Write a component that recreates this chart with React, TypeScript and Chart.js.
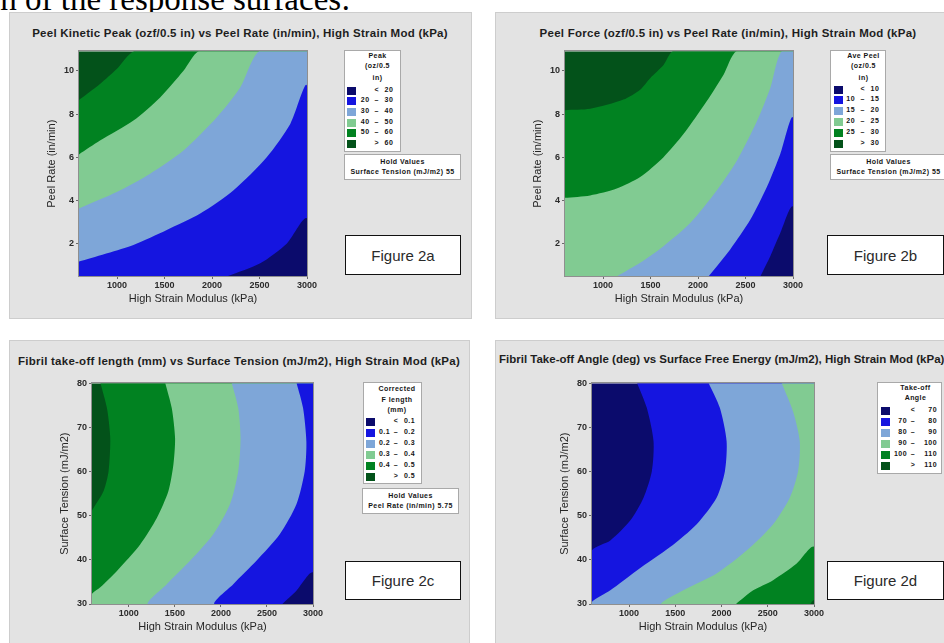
import React, { useEffect, useRef } from 'react';
import { Chart, registerables } from 'chart.js';

Chart.register(...registerables);

const SANS = '"Liberation Sans", Arial, Helvetica, sans-serif';

// ---------------- shared axes ----------------
const modulusTicks = [1000, 1500, 2000, 2500, 3000];
const modulusRange = [600, 3000];
const peelRateTicks = [2, 4, 6, 8, 10];
const peelRateRange = [0.5, 10.9];
const tensionTicks = [30, 40, 50, 60, 70, 80];
const tensionRange = [30, 80];

// bin colours, lowest bin first
const binColors = ['#0b0b6c', '#1515e0', '#7ea6d8', '#81cb92', '#018221', '#03521a'];

// ---------------- Figure 2a : Peel Kinetic Peak ----------------
const peakBins = [['', '<', '20'], ['20', '–', '30'], ['30', '–', '40'], ['40', '–', '50'], ['50', '–', '60'], ['', '>', '60']];
const peak60 = [[600, 8.65], [821, 9.39], [997, 10.08], [1190, 10.93]];
const peak50 = [[600, 6.13], [821, 6.77], [1173, 7.7], [1454, 8.77], [1700, 10.0], [1869, 10.93]];
const peak40 = [[600, 3.63], [997, 4.39], [1349, 5.24], [1700, 6.31], [2051, 7.85], [2297, 9.23], [2501, 10.93]];
const peak30 = [[600, 1.17], [1173, 1.94], [1524, 2.63], [1876, 3.39], [2227, 4.47], [2578, 6.01], [2824, 7.54], [3000, 9.31]];
const peak20 = [[2157, 0.48], [2508, 1.09], [2789, 2.01], [3000, 3.16]];

// ---------------- Figure 2b : Peel Force ----------------
const forceBins = [['', '<', '10'], ['10', '–', '15'], ['15', '–', '20'], ['20', '–', '25'], ['25', '–', '30'], ['', '>', '30']];
const force30 = [[600, 8.18], [864, 8.24], [1215, 8.67], [1391, 9.13], [1496, 9.66], [1637, 10.27], [1742, 10.93]];
const force25 = [[600, 4.12], [864, 4.23], [1145, 4.55], [1391, 5.08], [1637, 6.0], [1847, 7.07], [2093, 8.6], [2269, 9.82], [2410, 10.93]];
const force20 = [[1145, 0.48], [1391, 1.11], [1637, 1.88], [1918, 2.95], [2199, 4.47], [2410, 5.85], [2621, 7.68], [2761, 9.21], [2884, 10.93]];
const force15 = [[2111, 0.48], [2339, 1.73], [2550, 3.1], [2726, 4.63], [2866, 6.15], [3000, 7.83]];
const force10 = [[2656, 0.48], [2761, 1.42], [2866, 2.49], [3000, 3.71]];

// ---------------- Figure 2c : Fibril take-off length ----------------
const lengthBins = [['', '<', '0.1'], ['0.1', '–', '0.2'], ['0.2', '–', '0.3'], ['0.3', '–', '0.4'], ['0.4', '–', '0.5'], ['', '>', '0.5']];
const length05 = [[690, 80.2], [762, 74.4], [798, 67.6], [780, 60.1], [726, 55.6], [618, 51.8], [598, 51.1]];
const length04 = [[1394, 80.2], [1466, 74.4], [1502, 67.6], [1484, 61.6], [1430, 55.6], [1304, 49.5], [1123, 43.5], [871, 37.5], [690, 33.8], [598, 32.3]];
const length03 = [[2116, 80.2], [2188, 74.4], [2213, 67.6], [2188, 60.1], [2098, 52.6], [1917, 45.8], [1665, 39.8], [1412, 34.5], [1214, 29.8]];
const length02 = [[2820, 80.2], [2892, 74.4], [2928, 66.8], [2910, 60.1], [2820, 52.6], [2639, 45.8], [2386, 39.8], [2134, 34.5], [1935, 29.8]];
const length01 = [[2657, 29.8], [2820, 33.0], [3002, 37.1]];

// ---------------- Figure 2d : Fibril take-off angle ----------------
const angleBins = [['', '<', '70'], ['70', '–', '80'], ['80', '–', '90'], ['90', '–', '100'], ['100', '–', '110'], ['', '>', '110']];
const angle70 = [[1085, 80.2], [1193, 74.4], [1265, 66.9], [1247, 60.1], [1157, 54.1], [1013, 48.9], [798, 44.4], [598, 42.1]];
const angle80 = [[1858, 80.2], [1983, 74.4], [2055, 66.9], [2037, 60.1], [1947, 54.1], [1732, 48.1], [1444, 42.9], [1085, 37.6], [798, 33.1], [598, 30.5]];
const angle90 = [[2648, 80.2], [2774, 73.6], [2846, 66.9], [2828, 60.1], [2738, 54.1], [2558, 48.1], [2271, 42.1], [1947, 36.9], [1588, 33.1], [1355, 29.8]];
const angle100 = [[2145, 29.8], [2343, 33.1], [2558, 35.4], [2810, 39.1], [3002, 42.9]];
const angle110 = [[2953, 29.8], [3002, 30.9]];

// ---------------- chart ----------------
type Layer = { pts: number[][]; close: string[]; color: string };

const Y_AXIS_W = 34;
const X_AXIS_H = 30;
const PAD_TOP = 6;
const PAD_RIGHT = 14;

const framePlugin = {
  id: 'plotFrame',
  afterDatasetsDraw(chart: any) {
    const { ctx, chartArea: a } = chart;
    ctx.save();
    ctx.strokeStyle = '#8f8f8f';
    ctx.lineWidth = 1;
    ctx.strokeRect(Math.round(a.left) - 0.5, Math.round(a.top) - 0.5, Math.round(a.right - a.left) + 1, Math.round(a.bottom - a.top) + 1);
    ctx.restore();
  },
};

function axis(range: number[], ticks: number[], title: string, isX: boolean) {
  return {
    type: 'linear',
    min: range[0],
    max: range[1],
    afterBuildTicks: (s: any) => {
      s.ticks = ticks.map((v) => ({ value: v }));
    },
    afterFit: (s: any) => {
      if (isX) s.height = X_AXIS_H;
      else s.width = Y_AXIS_W;
    },
    ticks: {
      color: '#2b2b2b',
      font: { size: 9, family: SANS, weight: 'bold' },
      padding: isX ? 1 : 2,
      maxRotation: 0,
      autoSkip: false,
      callback: (v: any) => String(v),
    },
    grid: { drawOnChartArea: false, drawTicks: true, tickLength: 3, color: '#6a6a6a', lineWidth: 1 },
    border: { display: false },
    title: { display: true, text: title, color: '#262626', font: { size: 11, family: SANS }, padding: 0 },
  };
}

function ContourChart(props: {
  rect: number[];
  xRange: number[];
  yRange: number[];
  xTicks: number[];
  yTicks: number[];
  xTitle: string;
  yTitle: string;
  base: string;
  layers: Layer[];
}) {
  const ref = useRef<HTMLCanvasElement | null>(null);
  const { rect, xRange, yRange, xTicks, yTicks, xTitle, yTitle, base, layers } = props;
  const [L, T, R, B] = rect;
  const left = L - Y_AXIS_W;
  const top = T - PAD_TOP;
  const width = R - L + Y_AXIS_W + PAD_RIGHT;
  const height = B - T + PAD_TOP + X_AXIS_H;

  useEffect(() => {
    if (!ref.current) return;
    const [x0, x1] = xRange;
    const [y0, y1] = yRange;
    const mx = (x1 - x0) * 0.15;
    const my = (y1 - y0) * 0.15;
    const corner: Record<string, { x: number; y: number }> = {
      TL: { x: x0 - mx, y: y1 + my },
      TR: { x: x1 + mx, y: y1 + my },
      BR: { x: x1 + mx, y: y0 - my },
      BL: { x: x0 - mx, y: y0 - my },
    };
    const all: Layer[] = [{ pts: [], close: ['TL', 'TR', 'BR', 'BL'], color: base }, ...layers];
    const datasets = all.map((l, i) => ({
      data: [...l.pts.map(([x, y]) => ({ x, y })), ...l.close.map((c) => corner[c])],
      showLine: true,
      fill: 'shape',
      backgroundColor: l.color,
      borderColor: l.color,
      borderWidth: 0,
      pointRadius: 0,
      pointHoverRadius: 0,
      tension: 0.25,
      order: all.length - i,
    }));
    const chart = new Chart(ref.current, {
      type: 'scatter',
      data: { datasets } as any,
      options: {
        animation: false,
        responsive: false,
        maintainAspectRatio: false,
        events: [],
        layout: { padding: { top: PAD_TOP, right: PAD_RIGHT, left: 0, bottom: 0 } },
        elements: { line: { capBezierPoints: false } },
        plugins: {
          legend: { display: false },
          tooltip: { enabled: false },
          title: { display: false },
          filler: { propagate: false },
        },
        scales: {
          x: axis(xRange, xTicks, xTitle, true),
          y: axis(yRange, yTicks, yTitle, false),
        } as any,
      },
      plugins: [framePlugin],
    });
    return () => chart.destroy();
  }, []);

  return <canvas ref={ref} width={width} height={height} style={{ position: 'absolute', left, top, width, height }} />;
}

// ---------------- HTML decorations ----------------
function PanelBg(p: { l: number; t: number; w: number; h: number }) {
  return (
    <div
      style={{
        position: 'absolute',
        left: p.l,
        top: p.t,
        width: p.w,
        height: p.h,
        background: '#e3e3e3',
        border: '1px solid #cdcdcd',
        boxSizing: 'border-box',
      }}
    />
  );
}

function Title(p: { text: string; cx?: number; x?: number; cy: number; spacing?: number }) {
  const base: any = {
    position: 'absolute',
    top: p.cy - 8,
    height: 16,
    lineHeight: '16px',
    font: `bold 11.5px ${SANS}`,
    letterSpacing: `${p.spacing ?? 0.25}px`,
    color: '#1e1e1e',
    whiteSpace: 'nowrap',
  };
  if (p.cx !== undefined) {
    return <div style={{ ...base, left: p.cx - 300, width: 600, textAlign: 'center' }}>{p.text}</div>;
  }
  return <div style={{ ...base, left: p.x }}>{p.text}</div>;
}

const LEG_FONT = `bold 7px ${SANS}`;

function Legend(p: {
  box: number[];
  titleLines: string[];
  titleCx: number;
  titleYs: number[];
  rows: string[][];
  row0: number;
  step: number;
  sw: number;
  lowR: number;
  sepC: number;
  highR: number;
}) {
  const [l, t, w, h] = p.box;
  const txt: any = { position: 'absolute', height: 10, lineHeight: '10px', font: LEG_FONT, letterSpacing: '0.45px', color: '#151515', whiteSpace: 'nowrap' };
  return (
    <div style={{ position: 'absolute', left: l, top: t, width: w, height: h, background: '#fff', border: '1px solid #a9a9a9', boxSizing: 'border-box' }}>
      {p.titleLines.map((s, i) => (
        <div key={'t' + i} style={{ ...txt, left: p.titleCx - 41, width: 80, top: p.titleYs[i] - 6, textAlign: 'center' }}>
          {s}
        </div>
      ))}
      {p.rows.map((r, i) => {
        const cy = p.row0 + i * p.step - 1;
        return (
          <React.Fragment key={'r' + i}>
            <div style={{ position: 'absolute', left: p.sw - 1, top: cy - 4, width: 9, height: 8, background: binColors[i] }} />
            <div style={{ ...txt, left: p.lowR - 31, width: 30, top: cy - 5, textAlign: 'right' }}>{r[0]}</div>
            <div style={{ ...txt, left: p.sepC - 6, width: 10, top: cy - 5, textAlign: 'center' }}>{r[1]}</div>
            <div style={{ ...txt, left: p.highR - 31, width: 30, top: cy - 5, textAlign: 'right' }}>{r[2]}</div>
          </React.Fragment>
        );
      })}
    </div>
  );
}

function HoldBox(p: { box: number[]; value: string }) {
  const [l, t, w, h] = p.box;
  const txt: any = {
    position: 'absolute',
    left: 0,
    width: w - 2,
    height: 10,
    lineHeight: '10px',
    textAlign: 'center',
    font: LEG_FONT,
    letterSpacing: '0.45px',
    color: '#151515',
    whiteSpace: 'nowrap',
  };
  return (
    <div style={{ position: 'absolute', left: l, top: t, width: w, height: h, background: '#fff', border: '1px solid #a9a9a9', boxSizing: 'border-box' }}>
      <div style={{ ...txt, top: 2.5 }}>Hold Values</div>
      <div style={{ ...txt, top: 13 }}>{p.value}</div>
    </div>
  );
}

function FigBox(p: { box: number[]; text: string }) {
  const [l, t, w, h] = p.box;
  return (
    <div
      style={{
        position: 'absolute',
        left: l,
        top: t,
        width: w,
        height: h,
        background: '#fff',
        border: '1.5px solid #111',
        boxSizing: 'border-box',
        font: `15px ${SANS}`,
        color: '#2a2a2a',
        display: 'flex',
        alignItems: 'center',
        justifyContent: 'center',
      }}
    >
      {p.text}
    </div>
  );
}

const MODULUS_TITLE = 'High Strain Modulus (kPa)';

export default function App() {
  return (
    <div style={{ position: 'fixed', left: 0, top: 0, width: 944, height: 643, overflow: 'hidden', background: '#fff' }}>
      <div
        style={{
          position: 'absolute',
          left: -43.7,
          top: -17.2,
          font: '33px "Liberation Serif", "Times New Roman", serif',
          lineHeight: '33px',
          whiteSpace: 'nowrap',
          color: '#000',
        }}
      >
        each of the response surfaces:
      </div>

      {/* ---------- Figure 2a ---------- */}
      <PanelBg l={9} t={12} w={463} h={307} />
      <Title text="Peel Kinetic Peak (ozf/0.5 in) vs Peel Rate (in/min), High Strain Mod (kPa)" cx={240} cy={35} />
      <ContourChart
        rect={[79, 50, 307, 276]}
        xRange={modulusRange}
        yRange={peelRateRange}
        xTicks={modulusTicks}
        yTicks={peelRateTicks}
        xTitle={MODULUS_TITLE}
        yTitle="Peel Rate (in/min)"
        base={binColors[5]}
        layers={[
          { pts: peak60, close: ['TR', 'BR', 'BL'], color: binColors[4] },
          { pts: peak50, close: ['TR', 'BR', 'BL'], color: binColors[3] },
          { pts: peak40, close: ['TR', 'BR', 'BL'], color: binColors[2] },
          { pts: peak30, close: ['BR', 'BL'], color: binColors[1] },
          { pts: peak20, close: ['BR'], color: binColors[0] },
        ]}
      />
      <Legend
        box={[344, 50, 57, 102]}
        titleLines={['Peak', '(oz/0.5', 'in)']}
        titleCx={33.5}
        titleYs={[6.5, 17, 28.5]}
        rows={peakBins}
        row0={40.7}
        step={10.65}
        sw={3}
        lowR={25.5}
        sepC={32.7}
        highR={49.3}
      />
      <HoldBox box={[344, 154, 117, 26]} value="Surface Tension (mJ/m2) 55" />
      <FigBox box={[345, 235, 116, 40]} text="Figure 2a" />

      {/* ---------- Figure 2b ---------- */}
      <PanelBg l={495} t={12} w={470} h={307} />
      <Title text="Peel Force (ozf/0.5 in) vs Peel Rate (in/min), High Strain Mod (kPa)" cx={728} cy={35} />
      <ContourChart
        rect={[565, 50, 793, 276]}
        xRange={modulusRange}
        yRange={peelRateRange}
        xTicks={modulusTicks}
        yTicks={peelRateTicks}
        xTitle={MODULUS_TITLE}
        yTitle="Peel Rate (in/min)"
        base={binColors[5]}
        layers={[
          { pts: force30, close: ['TR', 'BR', 'BL'], color: binColors[4] },
          { pts: force25, close: ['TR', 'BR', 'BL'], color: binColors[3] },
          { pts: force20, close: ['TR', 'BR'], color: binColors[2] },
          { pts: force15, close: ['BR'], color: binColors[1] },
          { pts: force10, close: ['BR'], color: binColors[0] },
        ]}
      />
      <Legend
        box={[830, 50, 56, 102]}
        titleLines={['Ave Peel', '(oz/0.5', 'in)']}
        titleCx={33.5}
        titleYs={[6.7, 17, 28.7]}
        rows={forceBins}
        row0={39.5}
        step={10.8}
        sw={4}
        lowR={25}
        sepC={32.7}
        highR={49.3}
      />
      <HoldBox box={[830, 154, 117, 26]} value="Surface Tension (mJ/m2) 55" />
      <FigBox box={[827, 235, 117, 40]} text="Figure 2b" />

      {/* ---------- Figure 2c ---------- */}
      <PanelBg l={9} t={340} w={461} h={320} />
      <Title text="Fibril take-off length (mm) vs Surface Tension (mJ/m2), High Strain Mod (kPa)" cx={239} cy={362.7} />
      <ContourChart
        rect={[92, 382, 313, 604]}
        xRange={modulusRange}
        yRange={tensionRange}
        xTicks={modulusTicks}
        yTicks={tensionTicks}
        xTitle={MODULUS_TITLE}
        yTitle="Surface Tension (mJ/m2)"
        base={binColors[5]}
        layers={[
          { pts: length05, close: ['BL', 'BR', 'TR'], color: binColors[4] },
          { pts: length04, close: ['BL', 'BR', 'TR'], color: binColors[3] },
          { pts: length03, close: ['BR', 'TR'], color: binColors[2] },
          { pts: length02, close: ['BR', 'TR'], color: binColors[1] },
          { pts: length01, close: ['BR'], color: binColors[0] },
        ]}
      />
      <Legend
        box={[363, 382, 59, 102]}
        titleLines={['Corrected', 'F length', '(mm)']}
        titleCx={34}
        titleYs={[8, 18.7, 28.7]}
        rows={lengthBins}
        row0={40}
        step={11.05}
        sw={3}
        lowR={27}
        sepC={33}
        highR={52}
      />
      <HoldBox box={[362, 488, 97, 26]} value="Peel Rate (in/min) 5.75" />
      <FigBox box={[345, 561, 116, 39]} text="Figure 2c" />

      {/* ---------- Figure 2d ---------- */}
      <PanelBg l={495} t={340} w={470} h={320} />
      <Title text="Fibril Take-off Angle (deg) vs Surface Free Energy (mJ/m2), High Strain Mod (kPa)" x={499} cy={360.5} spacing={0} />
      <ContourChart
        rect={[592, 382, 814, 604]}
        xRange={modulusRange}
        yRange={tensionRange}
        xTicks={modulusTicks}
        yTicks={tensionTicks}
        xTitle={MODULUS_TITLE}
        yTitle="Surface Tension (mJ/m2)"
        base={binColors[0]}
        layers={[
          { pts: angle70, close: ['BL', 'BR', 'TR'], color: binColors[1] },
          { pts: angle80, close: ['BL', 'BR', 'TR'], color: binColors[2] },
          { pts: angle90, close: ['BR', 'TR'], color: binColors[3] },
          { pts: angle100, close: ['BR'], color: binColors[4] },
          { pts: angle110, close: ['BR'], color: binColors[5] },
        ]}
      />
      <Legend
        box={[877, 382, 65, 92]}
        titleLines={['Take-off', 'Angle']}
        titleCx={38.5}
        titleYs={[6.6, 17.3]}
        rows={angleBins}
        row0={29.3}
        step={10.9}
        sw={4}
        lowR={30}
        sepC={36}
        highR={60}
      />
      <FigBox box={[827, 561, 117, 39]} text="Figure 2d" />
    </div>
  );
}
